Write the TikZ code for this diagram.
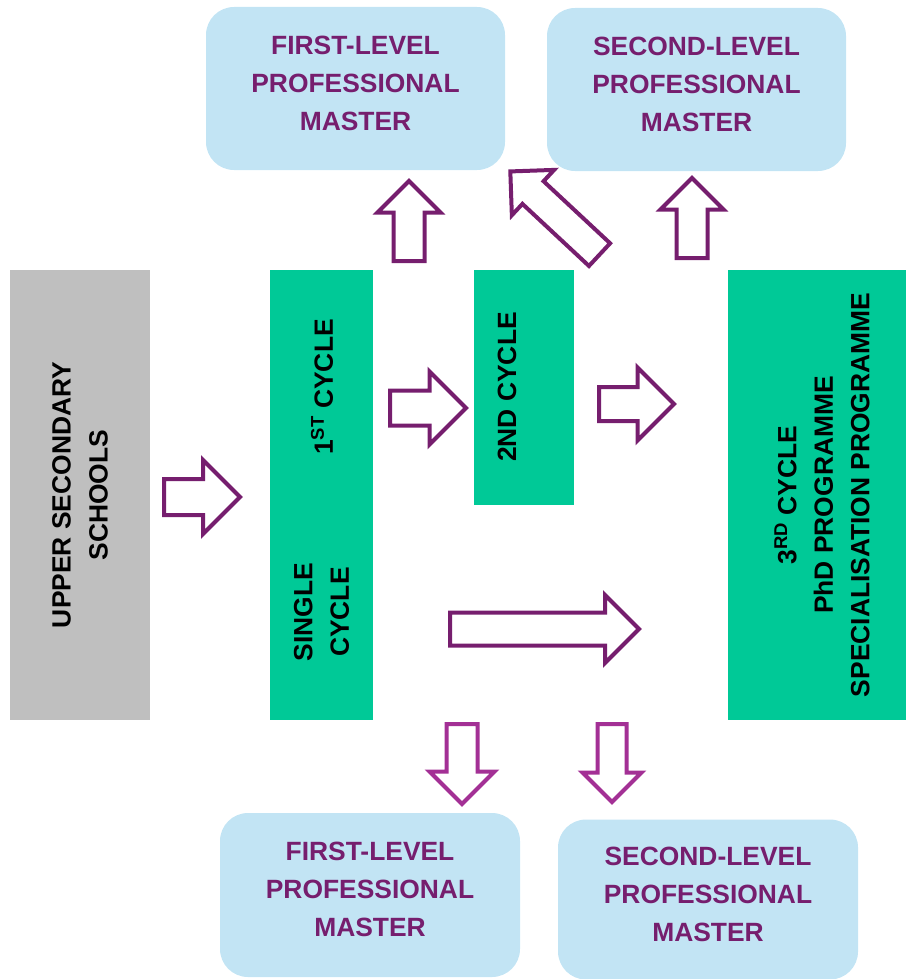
\documentclass[tikz,border=0pt]{standalone}
\usepackage{fontspec}
\setmainfont{Liberation Sans}
\usepackage{xcolor}
\usepackage{tikz}
\usetikzlibrary{positioning, shapes.arrows}
\definecolor{plum}{RGB}{118,30,110}
\definecolor{orchid}{RGB}{163,48,149}
\definecolor{skyfill}{RGB}{194,228,244}
\definecolor{mint}{RGB}{0,201,151}
\definecolor{ashfill}{RGB}{191,191,191}
\tikzset{
    masterbox/.style={rectangle, rounded corners=28pt, fill=skyfill, text=plum, align=center,
        font=\bfseries\fontsize{26.4}{38}\selectfont, text depth=11pt},
    cyclebox/.style={rectangle, fill=mint, inner sep=0pt},
    cycletext/.style={rotate=90, align=center, font=\bfseries\fontsize{26.4}{36.5}\selectfont},
    blockarrow/.style={single arrow, draw=#1, line width=4pt, fill=white, inner xsep=0pt,
        anchor=tail, single arrow tip angle=90}
}
\begin{document}
\begin{tikzpicture}[x=1pt, y=-1pt]
    \useasboundingbox (0,0) rectangle (906,979);

    % scuola secondaria
    \node[rectangle, fill=ashfill, rotate=90, minimum width=450pt, minimum height=140pt, align=center,
        font=\bfseries\fontsize{26.4}{37}\selectfont] (upper) at (80,495) {UPPER SECONDARY\\SCHOOLS};

    % cicli
    \node[cyclebox, minimum width=103pt, minimum height=450pt] (single) at (321.5,495) {};
    \node[cyclebox, minimum width=100pt, minimum height=235pt] (second) at (524,387.5) {};
    \node[cyclebox, minimum width=178pt, minimum height=450pt] (third) at (817,495) {};
    \node[cycletext] (firstlbl) at (322,387) {1\textsuperscript{ST} CYCLE};
    \node[cycletext] (singlelbl) at (321.5,612) {SINGLE\\CYCLE};
    \node[cycletext] (secondlbl) at (507,387) {2ND CYCLE};
    \node[cycletext] (thirdlbl) at (822,495) {3\textsuperscript{RD} CYCLE\\PhD PROGRAMME\\SPECIALISATION PROGRAMME};

    % master
    \node[masterbox, minimum width=299pt, minimum height=163pt] (mtopA) at (355.5,88.5) {FIRST-LEVEL\\PROFESSIONAL\\MASTER};
    \node[masterbox, minimum width=299pt, minimum height=163pt] (mtopB) at (696.5,89.5) {SECOND-LEVEL\\PROFESSIONAL\\MASTER};
    \node[masterbox, minimum width=300pt, minimum height=164pt] (mbotA) at (370,895) {FIRST-LEVEL\\PROFESSIONAL\\MASTER};
    \node[masterbox, minimum width=300pt, minimum height=160pt] (mbotB) at (708,899.5) {SECOND-LEVEL\\PROFESSIONAL\\MASTER};

    % frecce: nome/coda x/coda y/angolo/lunghezza/fusto/testa/colore
    \foreach \n/\tx/\ty/\a/\l/\s/\h/\c in {
        upper/162/497/0/76/32/70/plum,
        first/388/408/0/76/31/69/plum,
        second/597/404/0/75/30/69/plum,
        single/448/629/0/189/29/64/plum,
        upA/409/263/90/80/27/59/plum,
        upB/692/260/90/80/27/59/plum,
        diag/601/256/137/122/27/58/plum,
        downA/462/722/-90/80/27/61/orchid,
        downB/612/722/-90/78/25/55/orchid} {
        \node[blockarrow=\c, rotate=\a, minimum height=\l pt, minimum width=\h pt,
            inner ysep=0.5*\s pt, single arrow head extend=0.5*\h pt-0.5*\s pt] (arr\n) at (\tx,\ty) {};
    }
\end{tikzpicture}
\end{document}
